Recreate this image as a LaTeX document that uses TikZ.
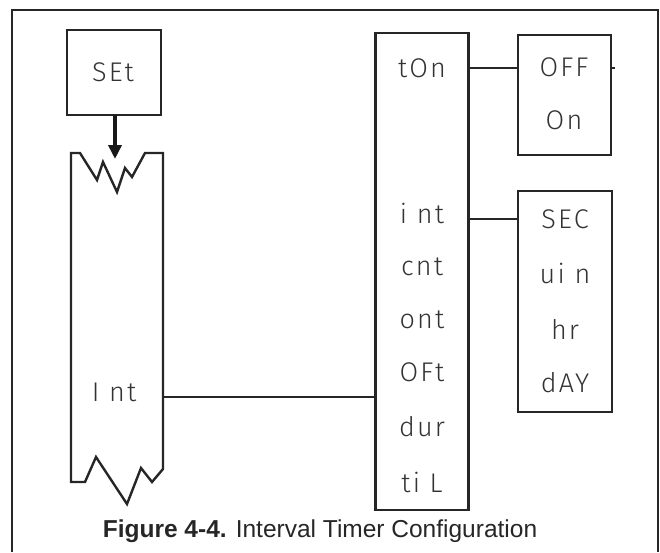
\documentclass[tikz,border=0pt]{standalone}
\usepackage{fontspec}
\setmainfont{Liberation Sans}
\newfontfamily\segfont{Fira Sans Light}[LetterSpace=8]
\usetikzlibrary{arrows.meta}
\tikzset{
  frame/.style={line width=2.4pt, draw=black!85},
  box/.style={line width=2.4pt, draw=black!85},
  link/.style={line width=2.4pt, draw=black!85},
  seg/.style={font=\segfont\fontsize{27}{27}\selectfont, text=black!80, inner sep=0pt, anchor=center},
}
\begin{document}
\begin{tikzpicture}[x=1pt,y=-1pt]
\useasboundingbox (0,0) rectangle (660,552);
% frame (open at bottom)
\draw[frame] (12,552) -- (12,10) -- (658,10) -- (658,552);
% SET box
\draw[box] (67,30) rectangle (161,115);
\node[seg] (set) at (113,72) {SEt};
\coordinate (setb) at (115,115);
% Left menu strip with zigzag ends
\draw[box, line join=miter] (71,482) -- (71,153) -- (80,153) -- (97,180) -- (103,162) -- (117,192) -- (125,168) -- (132,177) -- (145,153) -- (163,153)
  -- (163,469) -- (152,482) -- (141,468) -- (127,504) -- (96,457) -- (85,482) -- cycle;
\coordinate (stript) at (115,159);
\draw[line width=3.8pt, draw=black!90, -{Triangle[length=14pt,width=13pt]}] (setb) -- (stript);
\node[seg] (int) at (114,392) {I nt};
\coordinate (strip) at (163,397);
% middle column
\node[box, minimum width=93pt, minimum height=477pt, inner sep=0pt] (mid) at (422,271.5) {};
\node[seg] (ton) at (422,68) {tOn};
\node[seg] (mint) at (422,213) {i nt};
\node[seg] (cnt) at (422,267) {cnt};
\node[seg] (ont) at (422,320) {ont};
\node[seg] (oft) at (422,372) {OFt};
\node[seg] (dur) at (422,427) {dur};
\node[seg] (til) at (422,482) {ti L};
\draw[link] (strip) -- (strip -| mid.west);
% OFF / On box
\node[box, minimum width=93pt, minimum height=120pt, inner sep=0pt] (onoff) at (564.5,95) {};
\node[seg] (off) at (564,67) {OFF};
\node[seg] (on) at (564,120) {On};
\draw[link] (mid.east |- 0,68) -- (onoff.west |- 0,68);
\coordinate (tick) at (615,68);
\draw[link] (onoff.east |- 0,68) -- (tick);
% units box
\node[box, minimum width=94pt, minimum height=221pt, inner sep=0pt] (units) at (565,301.5) {};
\node[seg] (sec) at (565,219) {SEC};
\node[seg] (min) at (565,273) {ui n};
\node[seg] (hr) at (565,329) {hr};
\node[seg] (day) at (565,383) {dAY};
\draw[link] (mid.east |- 0,219) -- (units.west |- 0,219);
% caption
\node[font=\fontsize{24.5}{25}\selectfont, text=black!85, inner sep=0pt] (cap) at (320,531) {\textbf{Figure 4-4.} Interval Timer Configuration};
\end{tikzpicture}
\end{document}
